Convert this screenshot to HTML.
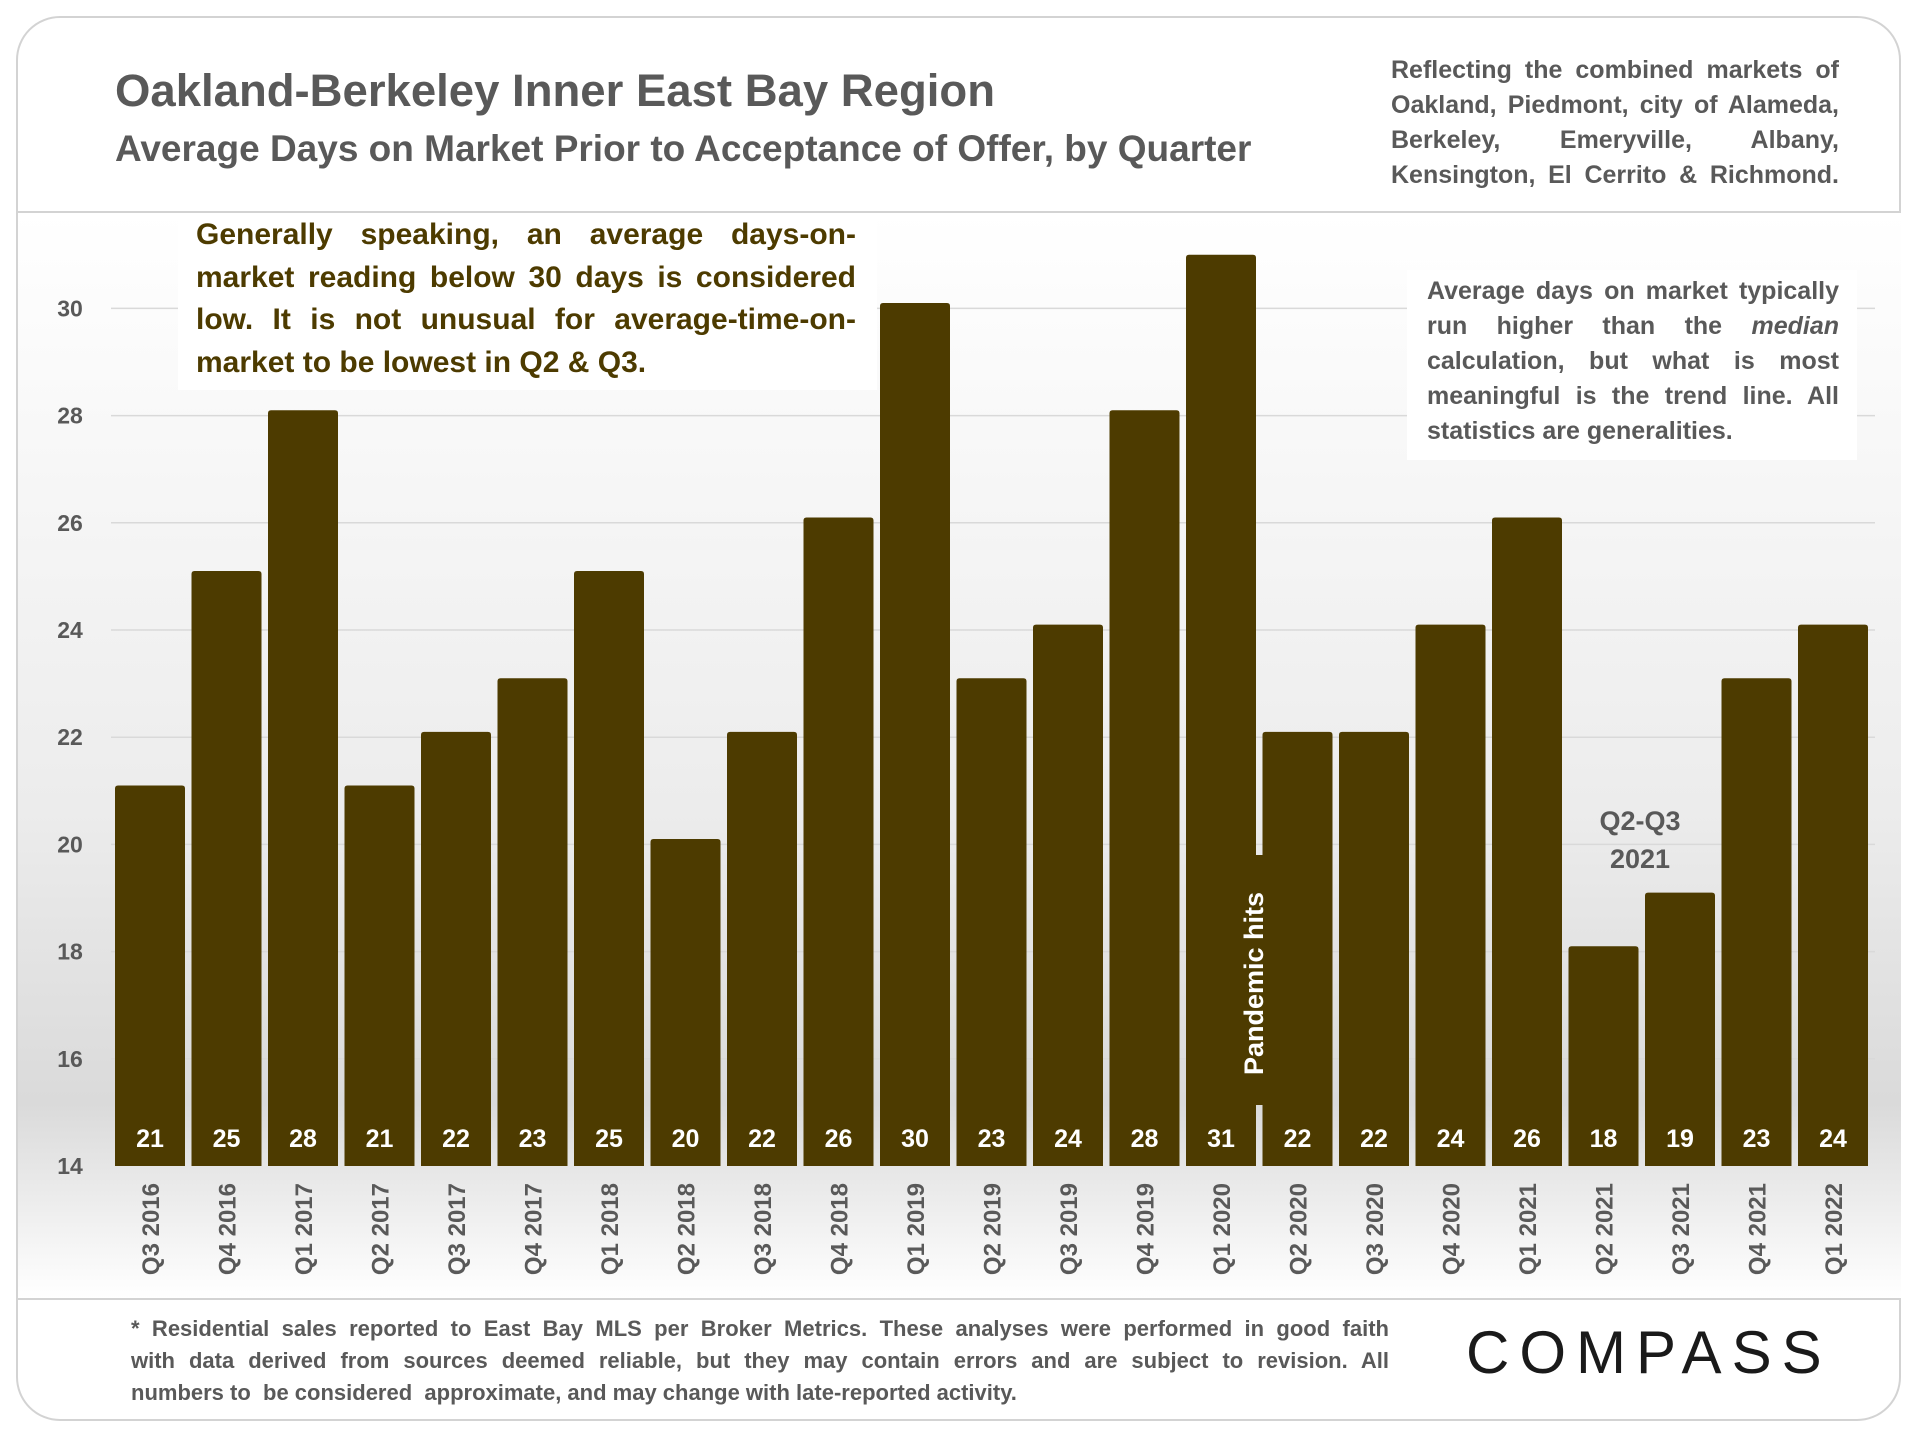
<!DOCTYPE html>
<html><head><meta charset="utf-8">
<style>
body{margin:0;width:1920px;height:1440px;background:#fff;font-family:"Liberation Sans",sans-serif;overflow:hidden;position:relative}
.card{position:absolute;left:16px;top:16px;width:1885px;height:1405px;border:2px solid #d3d3d3;border-radius:44px;box-sizing:border-box;overflow:hidden;background:#fff}
.t{position:absolute;font-weight:bold;color:#595959}
.l{display:block;text-align:justify;text-align-last:justify;white-space:nowrap}
.e{display:block;text-align:left;white-space:nowrap}
</style></head><body>
<div class="card"></div>
<svg id="chart" width="1920" height="1440" style="position:absolute;left:0;top:0">
<defs><linearGradient id="bg" x1="0" y1="0" x2="0" y2="1">
<stop offset="0" stop-color="#ffffff"/><stop offset="0.55" stop-color="#ececec"/><stop offset="0.82" stop-color="#dadada"/><stop offset="1" stop-color="#ffffff"/></linearGradient></defs>
<rect x="18" y="212" width="1883" height="1087" fill="url(#bg)"/>
<line x1="18" y1="212" x2="1901" y2="212" stroke="#d3d3d3" stroke-width="2"/>
<line x1="18" y1="1299" x2="1901" y2="1299" stroke="#d3d3d3" stroke-width="2"/>
<g id="grid"></g><g id="bars"></g><g id="labels"></g>
</svg>
<div class="t" style="left:115px;top:65px;font-size:45.5px">Oakland-Berkeley Inner East Bay Region</div>
<div class="t" style="left:115px;top:128px;font-size:37px">Average Days on Market Prior to Acceptance of Offer, by Quarter</div>
<div class="t" style="left:1391px;top:53px;width:448px;font-size:25px;line-height:35px"><span class="l">Reflecting the combined markets of</span><span class="l">Oakland, Piedmont, city of Alameda,</span><span class="l">Berkeley, Emeryville, Albany,</span><span class="l">Kensington, El Cerrito &amp; Richmond.</span></div>
<div style="position:absolute;left:178px;top:215px;width:699px;height:175px;background:#fff"></div>
<div class="t" style="left:196px;top:214px;width:660px;font-size:30px;line-height:42.5px;color:#4d3b00"><span class="l">Generally speaking, an average days-on-</span><span class="l">market reading below 30 days is considered</span><span class="l">low. It is not unusual for average-time-on-</span><span class="e">market to be lowest in Q2 &amp; Q3.</span></div>
<div style="position:absolute;left:1407px;top:270px;width:450px;height:190px;background:#fff"></div>
<div class="t" style="left:1427px;top:274px;width:412px;font-size:25px;line-height:35px"><span class="l">Average days on market typically</span><span class="l">run higher than the <i>median</i></span><span class="l">calculation, but what is most</span><span class="l">meaningful is the trend line. All</span><span class="e">statistics are generalities.</span></div>
<div class="t" style="left:1580px;top:802px;width:120px;text-align:center;font-size:27px;line-height:38px">Q2-Q3<br>2021</div>
<div class="t" style="left:131px;top:1313px;width:1258px;font-size:22px;line-height:32px"><span class="l">* Residential sales reported to East Bay MLS per Broker Metrics. These analyses were performed in good faith</span><span class="l">with data derived from sources deemed reliable, but they may contain errors and are subject to revision. All</span><span class="e">numbers to &nbsp;be considered &nbsp;approximate, and may change with late-reported activity.</span></div>
<div class="t" style="left:1466px;top:1318px;font-size:60px;letter-spacing:10px;color:#1a1a1a;font-weight:normal">COMPASS</div>
<script>
const categories=["Q3 2016","Q4 2016","Q1 2017","Q2 2017","Q3 2017","Q4 2017","Q1 2018","Q2 2018","Q3 2018","Q4 2018","Q1 2019","Q2 2019","Q3 2019","Q4 2019","Q1 2020","Q2 2020","Q3 2020","Q4 2020","Q1 2021","Q2 2021","Q3 2021","Q4 2021","Q1 2022"];
const values=[21.1,25.1,28.1,21.1,22.1,23.1,25.1,20.1,22.1,26.1,30.1,23.1,24.1,28.1,31,22.1,22.1,24.1,26.1,18.1,19.1,23.1,24.1];
const valueLabels=["21","25","28","21","22","23","25","20","22","26","30","23","24","28","31","22","22","24","26","18","19","23","24"];
const yTicks=[14,16,18,20,22,24,26,28,30];
const NS="http://www.w3.org/2000/svg";
const left=111.75,pitch=76.5,bw=70,base=1166,unit=53.6,ymin=14;
function xs(i){return left+i*pitch+(pitch-bw)/2;}
function ys(v){return base-(v-ymin)*unit;}
function mk(tag,attrs,parent){const e=document.createElementNS(NS,tag);for(const k in attrs)e.setAttribute(k,attrs[k]);parent.appendChild(e);return e;}
const grid=document.getElementById('grid'),bars=document.getElementById('bars'),labels=document.getElementById('labels');
yTicks.forEach(t=>{
  if(t>ymin){const l=mk('line',{x1:111,x2:1875,y1:ys(t),y2:ys(t),stroke:'#d9d9d9','stroke-width':1.5},grid);
  
  }
  const tx=mk('text',{x:70,y:ys(t)+8,'text-anchor':'middle','font-size':23,'font-weight':'bold',fill:'#595959','font-family':'Liberation Sans'},labels);
  tx.textContent=t;
  
  
});
categories.forEach((c,i)=>{
  const v=values[i];
  const r=mk('path',{d:'M'+xs(i)+','+base+'V'+(ys(v)+3)+'Q'+xs(i)+','+ys(v)+' '+(xs(i)+3)+','+ys(v)+'H'+(xs(i)+bw-3)+'Q'+(xs(i)+bw)+','+ys(v)+' '+(xs(i)+bw)+','+(ys(v)+3)+'V'+base+'Z',fill:'#4d3b00'},bars);
  
  
  const vt=mk('text',{x:xs(i)+bw/2,y:1147,'text-anchor':'middle','font-size':25,'font-weight':'bold',fill:'#fff','font-family':'Liberation Sans'},labels);
  vt.textContent=valueLabels[i];
  
  
  const cx=xs(i)+bw/2+9;
  const ct=mk('text',{x:cx,y:1183,'text-anchor':'end','font-size':24,'font-weight':'bold',fill:'#595959','font-family':'Liberation Sans',transform:'rotate(-90 '+cx+' 1183)'},labels);
  ct.textContent=c;
  
  
});
const pi=categories.indexOf("Q1 2020");
const px=xs(pi)+bw-3;
const pr=mk('rect',{x:px-14,y:855,width:30,height:250,fill:'#4d3b00'},labels);


const pt=mk('text',{x:px+10,y:1075,'font-size':27,'font-weight':'bold',fill:'#fff','font-family':'Liberation Sans',transform:'rotate(-90 '+(px+10)+' 1075)'},labels);
pt.textContent="Pandemic hits";


</script>
</body></html>
